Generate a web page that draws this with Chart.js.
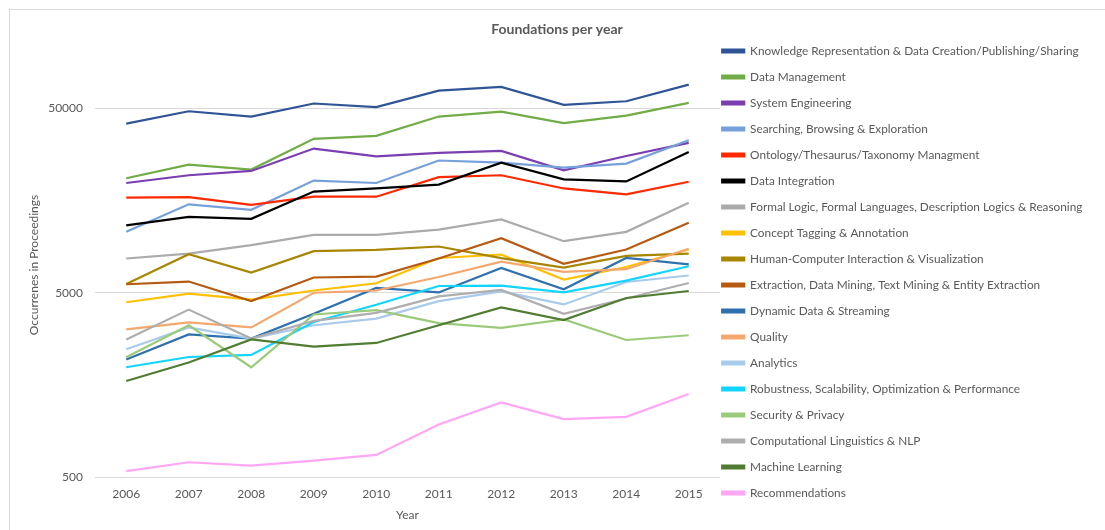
<!DOCTYPE html>
<html>
<head>
<meta charset="utf-8">
<script src="https://cdn.jsdelivr.net/npm/chart.js@4.4.1/dist/chart.umd.min.js"></script>
<style>
    html, body { margin: 0; padding: 0; background: #fff; overflow: hidden; }
    #wrap { position: relative; width: 1105px; height: 530px; }
    #frame { position: absolute; left: 9px; top: 9px; width: 1110px; height: 540px; border: 1px solid #d9d9d9; pointer-events: none; }
</style>
</head>
<body>
<div id="wrap">
    <canvas id="foundationsChart" width="1105" height="530"></canvas>
    <div id="frame"></div>
</div>
<script>
// Data
const years = ['2006', '2007', '2008', '2009', '2010', '2011', '2012', '2013', '2014', '2015'];
const yTicks = [500, 5000, 50000];

const knowledgeRep = [41400, 48300, 45200, 53200, 50900, 62500, 65400, 52300, 54700, 67400];
const dataManagement = [20900, 24800, 23300, 34200, 35500, 45200, 48100, 41600, 45700, 53600];
const systemEngineering = [19700, 21700, 22900, 30300, 27500, 28700, 29400, 23100, 27600, 32500];
const searching = [10700, 15100, 14100, 20300, 19700, 26100, 25400, 23900, 25100, 33600];
const ontology = [16400, 16500, 15000, 16600, 16600, 21200, 21700, 18400, 17100, 20000];
const dataIntegration = [11600, 12900, 12600, 17700, 18400, 19300, 25400, 20600, 20100, 29000];
const formalLogic = [7670, 8160, 9060, 10300, 10300, 11000, 12500, 9520, 10700, 15400];
const conceptTagging = [4440, 4950, 4590, 5140, 5630, 7720, 8060, 5900, 6900, 8580];
const hci = [5580, 8090, 6440, 8400, 8540, 8910, 7700, 6850, 7920, 8160];
const extraction = [5560, 5750, 4510, 6050, 6120, 7670, 9880, 7170, 8580, 12000];
const dynamicData = [2170, 2970, 2820, 3850, 5310, 5020, 6820, 5220, 7720, 7120];
const quality = [3160, 3450, 3240, 5000, 5140, 6090, 7380, 6490, 6710, 8670];
const analytics = [2470, 3240, 2820, 3330, 3620, 4500, 5090, 4320, 5720, 6200];
const robustness = [1970, 2240, 2300, 3470, 4300, 5440, 5470, 5020, 5820, 6960];
const security = [2230, 3330, 1970, 3810, 4020, 3420, 3220, 3580, 2770, 2940];
const compLinguistics = [2790, 4050, 2820, 3520, 3890, 4780, 5180, 3840, 4650, 5650];
const machineLearning = [1660, 2090, 2790, 2550, 2670, 3330, 4160, 3550, 4680, 5110];
const recommendations = [538, 601, 577, 614, 659, 964, 1270, 1030, 1060, 1410];

const seriesNames = [
    'Knowledge Representation & Data Creation/Publishing/Sharing',
    'Data Management',
    'System Engineering',
    'Searching, Browsing & Exploration',
    'Ontology/Thesaurus/Taxonomy Managment',
    'Data Integration',
    'Formal Logic, Formal Languages, Description Logics & Reasoning',
    'Concept Tagging & Annotation',
    'Human-Computer Interaction & Visualization',
    'Extraction, Data Mining, Text Mining & Entity Extraction',
    'Dynamic Data & Streaming',
    'Quality',
    'Analytics',
    'Robustness, Scalability, Optimization & Performance',
    'Security & Privacy',
    'Computational Linguistics & NLP',
    'Machine Learning',
    'Recommendations'
];
const seriesValues = [
    knowledgeRep, dataManagement, systemEngineering, searching, ontology, dataIntegration,
    formalLogic, conceptTagging, hci, extraction, dynamicData, quality, analytics,
    robustness, security, compLinguistics, machineLearning, recommendations
];
const seriesColors = [
    '#2f5597', '#70ad47', '#7a3eb1', '#76a0da', '#ff2a00', '#000000',
    '#ababab', '#ffc000', '#a98600', '#b65a12', '#2e71ae', '#f5a86e',
    '#a8cbeb', '#12d5ff', '#9bcb7a', '#aeaeae', '#507d32', '#ffa6f4'
];

const textColor = '#595959';
const fontFamily = 'Lato, "Open Sans", sans-serif';

// later series drawn on top, like the original
const datasets = seriesNames.map(function(name, i) {
    return {
        label: name,
        data: seriesValues[i],
        borderColor: seriesColors[i],
        backgroundColor: seriesColors[i],
        borderWidth: 2.2,
        pointRadius: 0,
        tension: 0,
        fill: false,
        order: seriesNames.length - i
    };
});

// pull the legend a bit to the left so its line samples sit next to the plot
const legendShift = {
    id: 'legendShift',
    afterUpdate: function(chart) {
        const lg = chart.legend;
        if (lg && !lg._shifted) {
            const origDraw = lg.draw.bind(lg);
            lg.draw = function() {
                const c = this.ctx;
                c.save();
                c.translate(-12, 0);
                origDraw();
                c.restore();
            };
            lg._shifted = true;
        }
    }
};

const ctx = document.getElementById('foundationsChart').getContext('2d');
const foundationsChart = new Chart(ctx, {
    type: 'line',
    data: { labels: years, datasets: datasets },
    plugins: [legendShift],
    options: {
        responsive: false,
        animation: false,
        layout: { padding: { top: 22, bottom: 8, left: 10, right: 1 } },
        plugins: {
            tooltip: { enabled: false },
            title: {
                display: true,
                text: 'Foundations per year',
                color: textColor,
                font: { family: fontFamily, size: 14, weight: 'bold', lineHeight: 1 },
                padding: { top: 0, bottom: 17 }
            },
            legend: {
                position: 'right',
                align: 'center',
                maxWidth: 384,
                labels: {
                    color: textColor,
                    font: { family: fontFamily, size: 11.8 },
                    boxWidth: 22,
                    boxHeight: 3,
                    padding: 14.2,
                    sort: function(a, b) { return a.datasetIndex - b.datasetIndex; }
                }
            }
        },
        scales: {
            x: {
                offset: true,
                grid: { display: false, drawTicks: false },
                border: { display: false },
                ticks: { color: textColor, font: { family: fontFamily, size: 12 }, padding: 10 },
                title: {
                    display: true,
                    text: 'Year',
                    color: textColor,
                    font: { family: fontFamily, size: 12 },
                    padding: { top: 3, bottom: 0 }
                },
                afterFit: function(scale) { scale.height = 45; }
            },
            y: {
                type: 'logarithmic',
                min: 500,
                max: 100000,
                grid: { color: '#d9d9d9', lineWidth: 1, drawTicks: false },
                border: { display: false },
                afterBuildTicks: function(scale) {
                    scale.ticks = yTicks.map(function(v) { return { value: v }; });
                },
                ticks: {
                    color: textColor,
                    font: { family: fontFamily, size: 12 },
                    padding: 12,
                    callback: function(value) { return String(value); }
                },
                title: {
                    display: true,
                    text: 'Occurrenes in Proceedings',
                    color: textColor,
                    font: { family: fontFamily, size: 12 },
                    padding: { top: 17, bottom: 4 }
                },
                afterFit: function(scale) { scale.width = 85; }
            }
        }
    }
});
</script>
</body>
</html>
